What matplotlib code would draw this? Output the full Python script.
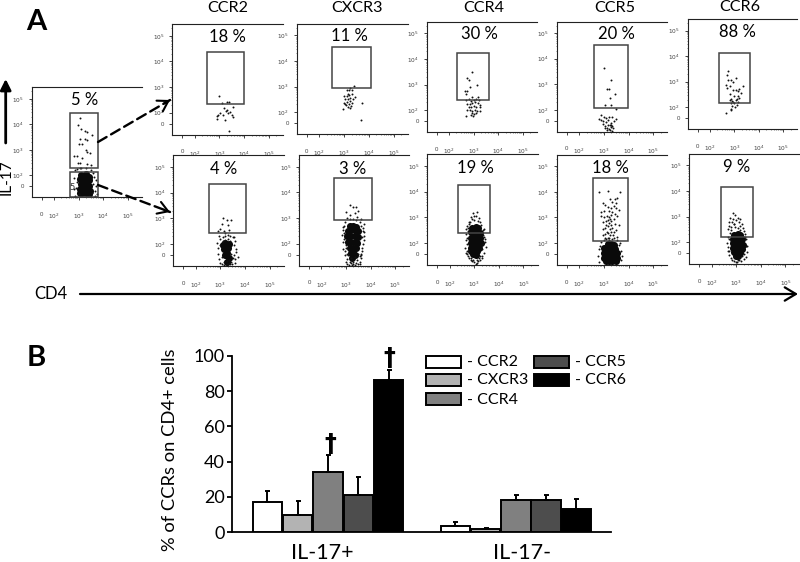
import matplotlib
matplotlib.use("Agg")
import matplotlib.pyplot as plt
from matplotlib.patches import Rectangle, FancyArrowPatch

plt.rcParams['font.family'] = ['Lato', 'DejaVu Sans']
W, H = 800, 562

# ---------- bar chart data ----------
receptors = ['CCR2', 'CXCR3', 'CCR4', 'CCR5', 'CCR6']
bar_colors = ['#ffffff', '#b3b3b3', '#808080', '#4d4d4d', '#000000']
il17_pos = [17, 10, 34, 21, 86]
il17_pos_err = [6.5, 8, 9.5, 10.5, 6]
il17_neg = [3.5, 2, 18.5, 18.5, 13]
il17_neg_err = [2.5, 0.7, 2.5, 2.5, 6]
group_labels = ['IL-17+', 'IL-17-']

# ---------- flow panels: percentages ----------
pct_main = '5 %'
pct_top = ['18 %', '11 %', '30 %', '20 %', '88 %']
pct_bot = ['4 %', '3 %', '19 %', '18 %', '9 %']

# ---------- flow panels: events (log10 display units) ----------
main_x = [3.07,2.99,3.11,3.25,3.34,3.52,3.05,3.25,3.34,3.02,3.15,3.34,3.45,3.28,2.80,2.91,3.05,3.34,3.48,3.15,2.98,
          2.85,2.95,3.05,3.6,3.7,3.65,2.8,3.72,3.55,2.88,3.62,2.84,3.68,3.5,3.1,3.3,2.92,3.2,3.42,2.82,3.74,3.6,3.0]
main_y = [4.26,3.97,3.80,3.75,3.71,3.58,3.41,3.41,3.39,3.22,3.22,2.93,2.89,3.0,2.77,2.77,2.47,2.43,2.41,2.67,2.47,
          2.2,2.25,2.3,2.1,1.8,1.4,1.9,1.6,1.3,1.5,1.95,1.2,1.2,2.2,2.28,2.3,1.75,1.17,1.18,1.45,1.25,1.65,1.25]
main_bx = [3.1,3.3,3.42,3.05,3.25,3.42,3.1,3.25,3.42,3.05,3.3,3.45,3.15,3.3,3.4,3.05,3.2,3.35,3.25]
main_by = [2.0,2.05,1.95,1.85,1.85,1.8,1.65,1.65,1.6,1.45,1.45,1.4,1.3,1.3,1.28,1.3,1.95,1.75,1.55]

c2t_x = [2.98,3.09,3.29,3.40,3.18,3.53,3.29,3.43,3.02,2.88,3.13,3.49,3.36,3.56,2.88,3.22,3.40,3.25,2.95]
c2t_y = [2.67,2.39,2.43,2.42,2.17,2.21,2.11,2.04,1.98,1.88,1.91,1.91,1.98,1.85,1.74,1.71,1.28,2.08,1.90]
c2b_x = [3.1,3.25,3.42,3.05,2.98,3.3,3.15,2.9,3.35,3.2,3.3,2.95,3.55,3.6,3.65,2.88,2.92,3.0,3.1,3.2,3.4,3.5,3.55,3.62,3.7,2.9,
         3.0,3.05,3.15,3.25,3.35,3.45,3.5,3.6,2.95,3.05,3.15,3.28,3.38,3.48,3.58,3.1,3.2,3.3,3.4,3.0,3.55,3.25,3.35,3.45]
c2b_y = [3.0,2.95,2.93,2.78,2.6,2.72,2.5,2.5,2.55,2.42,2.35,2.3,2.28,2.1,1.8,2.05,1.85,2.2,2.25,2.3,2.3,2.25,1.95,1.7,1.5,1.6,
         1.25,1.22,1.3,1.2,1.25,1.3,1.45,1.25,1.4,1.5,1.18,1.17,1.2,1.2,1.4,2.1,2.15,2.2,2.12,1.95,1.55,1.35,1.38,1.6]
c2b_bx = [3.2,3.35,3.15,3.32,3.1,3.28,3.18,3.35,3.25]
c2b_by = [2.05,2.0,1.8,1.85,1.95,1.65,1.55,1.45,1.3]

cx3t_x = [3.68,3.72,3.38,2.95,3.25,3.1,3.2,3.3,3.15,3.0,3.1,3.2,3.3,3.45,3.05,3.15,3.25,3.35,2.98,3.12,3.22,3.32,3.08,3.18,3.28,3.02,3.14,3.25]
cx3t_y = [1.70,2.35,3.03,2.12,2.95,2.85,2.85,2.85,2.72,2.62,2.62,2.65,2.7,2.6,2.5,2.52,2.55,2.5,2.35,2.4,2.42,2.35,2.28,2.3,2.25,2.3,2.18,2.15]
cx3b_x = [3.15,3.28,3.4,3.0,3.5,3.35,3.18,3.45,3.05,3.6,3.15,3.28,3.42,3.55,2.9,2.95,3.7,3.72,2.84,2.86,3.68,3.75,2.88,3.65,2.95,3.6,3.58,3.0,3.05,3.55,
          3.12,3.25,3.38,3.5,3.05,3.18,3.3,3.45,3.55,3.1,3.22,3.35,3.48,3.62,3.02,2.95,3.72,3.2,3.3,3.4,
          2.88,2.92,2.98,3.66,3.7,3.62,2.86,2.9,3.64,3.74,2.98,3.6]
cx3b_y = [3.5,3.42,3.45,3.25,3.27,3.2,3.1,3.05,3.0,2.96,2.95,2.98,2.92,2.85,2.7,2.85,2.6,2.3,2.35,2.05,2.0,2.45,1.8,1.7,1.55,1.45,1.3,1.3,1.2,1.22,
          1.18,1.17,1.18,1.2,1.4,1.28,1.3,1.35,1.5,1.55,1.45,1.48,1.6,1.6,1.6,1.7,2.75,1.24,1.22,1.25,
          2.55,2.2,1.95,2.25,2.5,2.7,2.65,2.42,1.85,2.15,1.85,1.55]
cx3b_bx = [3.15,3.3,3.42,3.08,3.22,3.4,3.5,3.05,3.18,3.35,3.48,3.08,3.2,3.38,3.46,3.15,3.28,3.4,3.2,3.3,3.35,3.25]
cx3b_by = [2.68,2.7,2.65,2.5,2.52,2.5,2.48,2.28,2.3,2.28,2.25,2.05,2.08,2.05,2.02,1.85,1.85,1.82,1.65,1.65,1.55,1.45]

c4t_x = [2.95,2.74,2.82,3.15,2.84,2.64,2.72,2.71,2.95,3.18,2.71,2.68,2.8,2.9,3.0,3.1,3.2,2.75,2.85,2.95,3.05,3.18,3.28,2.8,2.9,3.0,3.1,3.25,2.72,2.85,2.95,3.05,3.15,3.25,2.92,3.0,3.08,2.88,2.96]
c4t_y = [3.48,3.24,3.18,2.98,2.92,2.76,2.74,2.61,2.50,2.52,1.77,2.38,2.42,2.35,2.4,2.45,2.4,2.25,2.25,2.28,2.3,2.28,2.2,2.12,2.1,2.15,2.12,2.1,2.02,2.0,1.95,2.02,1.98,1.95,1.88,1.85,1.9,1.82,1.78]

c4b_x = [2.95,3.12,2.98,3.05,2.85,2.9,3.18,2.8,3.0,3.15,2.75,3.22,2.68,2.66,3.35,3.42,3.48,2.64,2.66,3.38,3.4,2.72,3.3,2.78,2.85,3.2,3.25,2.9,2.95,3.0,3.1,3.15,
         2.7,3.28,2.82,3.32,2.68,3.44,2.75,3.05,2.88,3.12,3.22,2.8,2.7,3.3,2.7,2.72,3.36,3.4,2.74,3.34]
c4b_y = [3.15,3.2,3.05,3.05,3.0,2.95,2.98,2.8,2.9,2.85,2.6,2.82,2.35,2.1,2.3,2.05,1.85,1.8,1.6,2.55,1.6,1.55,1.5,1.42,1.4,1.42,1.35,1.3,1.32,1.25,1.32,1.3,
         2.65,2.7,2.82,1.75,2.55,2.15,1.5,1.18,1.35,1.22,1.5,2.72,1.7,1.42,2.2,1.95,1.95,2.22,2.45,2.5]
c4b_bx = [2.92,3.05,3.16,2.85,2.98,3.12,3.22,2.85,2.95,3.1,3.22,2.85,2.95,3.08,3.2,3.26,2.85,2.95,3.08,3.2,2.88,3.0,3.12,2.95,3.05]
c4b_by = [2.6,2.62,2.58,2.42,2.42,2.45,2.4,2.2,2.22,2.22,2.2,2.0,2.02,2.0,2.02,2.0,1.82,1.82,1.8,1.82,1.68,1.65,1.68,1.55,1.52]

c5t_x = [3.02,3.30,3.11,3.22,3.25,3.44,3.03,3.30,3.48,2.82,2.9,3.0,3.1,3.2,3.35,3.5,2.88,2.98,3.08,3.18,3.28,3.4,2.95,3.05,3.15,3.25,3.35,3.05,3.12,3.2,3.28,3.38,3.12,3.25,3.35,3.3]
c5t_y = [3.62,3.16,2.82,2.82,2.48,2.61,2.20,2.17,2.04,1.62,1.78,1.72,1.68,1.7,1.72,1.65,1.6,1.55,1.52,1.58,1.5,1.55,1.45,1.38,1.4,1.42,1.35,1.28,1.3,1.25,1.32,1.28,1.2,1.22,1.18,1.42]

c5b_x = [2.82,3.16,3.65,3.55,3.45,3.35,3.5,3.25,3.4,2.95,3.05,3.15,3.3,3.5,3.6,2.9,3.0,3.2,3.35,3.45,3.55,2.88,3.02,3.12,3.22,3.3,3.4,2.95,3.1,3.2,3.28,3.45,3.6,2.95,3.05,3.15,3.25,3.35,3.5,3.12,3.3,3.05,3.18,3.25,3.38,2.95,3.2,3.42,3.55,3.08,3.22,3.32,3.15,3.25,3.3,3.4,3.0,3.1,
         2.78,2.8,3.7,3.68,2.82,3.72,3.62,2.85,2.9,3.65,3.55,3.05,3.15]
c5b_y = [4.0,4.02,4.0,3.75,3.72,3.6,3.55,3.7,3.45,3.55,3.5,3.42,3.38,3.35,3.3,3.2,3.25,3.25,3.2,3.15,3.05,3.05,3.0,3.05,3.0,3.08,2.95,2.82,2.85,2.8,2.85,2.75,2.7,2.55,2.6,2.65,2.55,2.6,2.5,2.42,2.42,2.35,2.38,2.3,2.3,2.3,2.2,2.2,2.25,2.15,2.12,2.15,2.9,2.95,2.72,2.42,2.1,2.72,
         1.5,1.25,1.7,1.35,1.75,1.5,1.92,1.9,2.02,2.0,2.1,2.18,2.18]
c5b_bx = [3.18,3.3,3.42,3.02,3.15,3.3,3.45,3.0,3.12,3.28,3.42,3.55,3.0,3.1,3.28,3.42,3.55,3.08,3.2,3.35,3.48,3.22]
c5b_by = [1.95,1.98,1.92,1.8,1.82,1.8,1.78,1.6,1.62,1.6,1.62,1.6,1.42,1.42,1.4,1.42,1.4,1.28,1.28,1.28,1.28,1.9]

c6t_x = [2.75,2.70,3.07,2.74,2.87,2.94,2.67,2.80,2.70,3.37,3.07,3.2,3.13,3.28,2.94,2.80,3.0,3.13,3.2,2.87,2.87,2.67,2.9,3.05,3.15,2.85,2.95,3.1,2.8,2.98,2.9,3.02,3.12,2.85]
c6t_y = [3.40,3.27,3.14,3.07,3.07,3.0,2.88,2.84,2.75,2.84,2.68,2.71,2.62,2.55,2.66,2.5,2.43,2.43,2.37,2.33,1.90,1.79,2.25,2.3,2.2,2.15,2.22,2.1,2.28,2.15,2.05,2.0,2.32,1.95]

c6b_x = [2.88,2.95,3.05,2.75,2.85,3.0,3.15,2.72,2.82,2.92,3.1,3.22,2.7,2.8,2.95,3.05,3.28,2.68,2.78,3.15,3.3,2.65,3.38,2.64,3.45,2.66,3.42,2.7,3.4,2.78,3.3,2.82,2.9,3.0,3.1,3.2,2.9,3.05,3.25,2.74,3.35,3.15,2.92,3.02,
         2.7,2.68,3.4,3.36,2.72,3.32]
c6b_y = [3.12,3.05,2.95,2.95,2.9,2.88,2.92,2.8,2.78,2.72,2.78,2.7,2.62,2.6,2.6,2.55,2.55,2.5,2.48,2.48,2.42,2.2,2.1,1.95,1.85,1.65,1.6,1.5,1.42,1.38,1.35,1.3,1.25,1.22,1.28,1.25,1.4,1.3,1.45,2.35,2.3,2.62,2.7,1.2,
         2.1,1.8,1.85,2.2,1.65,1.55]
c6b_bx = [2.92,3.05,3.16,2.85,2.95,3.1,3.22,2.85,2.95,3.08,3.2,3.28,2.85,2.95,3.1,3.22,2.92,3.02,3.15,2.98,3.08]
c6b_by = [2.28,2.32,2.26,2.12,2.15,2.12,2.12,1.95,1.95,1.95,1.95,1.9,1.75,1.75,1.75,1.72,1.6,1.6,1.58,1.45,1.45]

fig = plt.figure(figsize=(W / 100, H / 100), dpi=100)

def place(l, t, r, b):
    return fig.add_axes([l / W, 1 - b / H, (r - l) / W, (b - t) / H])

XT = [1.5, 2, 3, 4, 5]
YT = [1.57, 2, 3, 4, 5]
TL = ['0', r'$10^{2}$', r'$10^{3}$', r'$10^{4}$', r'$10^{5}$']
minor = [2.3, 2.48, 2.6, 2.7, 2.78, 2.85, 2.9, 2.95, 3.3, 3.48, 3.6, 3.7, 3.78, 3.85, 3.9, 3.95,
         4.3, 4.48, 4.6, 4.7, 4.78, 4.85, 4.9, 4.95, 5.3]

def flow(box, gates, x, y, bx=None, by=None, size=2.0):
    ax = place(*box)
    ax.set_xlim(1.09, 5.57)
    ax.set_ylim(1.14, 5.45)
    ax.patch.set_alpha(0)
    ax.spines['right'].set_visible(False)
    for s in ['left', 'bottom', 'top']:
        ax.spines[s].set_linewidth(0.8)
        ax.spines[s].set_color('#222222')
    ax.set_xticks(XT, TL)
    ax.set_yticks(YT, TL)
    ax.set_xticks(minor, minor=True)
    ax.set_yticks(minor, minor=True)
    ax.tick_params(which='major', length=2, width=0.6, labelsize=4.2, labelcolor='#444444', color='#222222')
    ax.tick_params(which='minor', length=1, width=0.4, color='#222222')
    ax.tick_params(axis='x', which='major', pad=8.5)
    ax.tick_params(axis='y', which='major', pad=3.5)
    if bx:
        ax.scatter(bx, by, s=26, c='#0a0a0a', linewidths=0, zorder=2)
    ax.scatter(x, y, s=size, c='#111111', linewidths=0, zorder=3)
    for g in gates:
        ax.add_patch(Rectangle((g[0], g[2]), g[1] - g[0], g[3] - g[2], fill=False,
                               ec='#444444', lw=1.1, zorder=4, clip_on=False))
    return ax

flow((31.7, 87.3, 142, 197.3), [(2.655, 3.79, 2.28, 4.43), (2.655, 3.79, 1.14, 2.13)], main_x, main_y, main_bx, main_by)
flow((172.3, 24.3, 283, 134.7), [(2.51, 3.98, 2.34, 4.35)], c2t_x, c2t_y)
flow((173, 155.3, 284, 266), [(2.55, 4.02, 2.42, 4.34)], c2b_x, c2b_y, c2b_bx, c2b_by)
flow((296.7, 24, 408, 134), [(2.53, 4.07, 2.93, 4.56)], cx3t_x, cx3t_y)
flow((299, 155.3, 409.3, 265.7), [(2.53, 4.07, 2.92, 4.55)], cx3b_x, cx3b_y, cx3b_bx, cx3b_by)
flow((426.7, 22, 536.7, 132), [(2.33, 3.63, 2.38, 4.25)], c4t_x, c4t_y)
flow((427.3, 154.3, 537.5, 265), [(2.33, 3.64, 2.37, 4.25)], c4b_x, c4b_y, c4b_bx, c4b_by)
flow((556.7, 21.7, 667.3, 131.7), [(2.59, 3.99, 2.07, 4.53)], c5t_x, c5t_y)
flow((556.7, 154.7, 667.3, 265), [(2.57, 3.99, 2.07, 4.53)], c5b_x, c5b_y, c5b_bx, c5b_by)
flow((687.7, 19, 797.3, 129.3), [(2.37, 3.63, 2.18, 4.14)], c6t_x, c6t_y)
flow((689.3, 154, 799.5, 264), [(2.39, 3.66, 2.20, 4.16)], c6b_x, c6b_y, c6b_bx, c6b_by)

# ---------- bar chart ----------
bax = place(232, 355.7, 611, 532.3)
bax.set_xlim(-1.17, 11.34)
bax.set_ylim(0, 100)
bax.patch.set_alpha(0)
for s in ['top', 'right']:
    bax.spines[s].set_visible(False)
for s in ['left', 'bottom']:
    bax.spines[s].set_linewidth(1.3)
for i, c in enumerate(bar_colors):
    bax.bar(i, il17_pos[i], width=0.97, color=c, edgecolor='black', linewidth=1.4,
            yerr=[[0], [il17_pos_err[i]]], error_kw=dict(ecolor='black', elinewidth=1.4, capsize=1.8, capthick=1.4), zorder=3)
    bax.bar(i + 6.2, il17_neg[i], width=0.97, color=c, edgecolor='black', linewidth=1.4,
            yerr=[[0], [il17_neg_err[i]]], error_kw=dict(ecolor='black', elinewidth=1.4, capsize=1.8, capthick=1.4), zorder=3)
bax.set_yticks([0, 20, 40, 60, 80, 100])
bax.set_xticks([1.8, 8.4], group_labels)
bax.tick_params(axis='y', length=3.6, width=1.3, labelsize=13, pad=1.5)
bax.tick_params(axis='x', length=0, labelsize=15.5, pad=8)
bax.set_ylabel('% of CCRs on CD4+ cells', fontsize=13.2, labelpad=2)
bax.yaxis.set_label_coords(-0.142, 0.47)

# ---------- overlay in pixel coordinates ----------
ov = fig.add_axes([0, 0, 1, 1])
ov.set_xlim(0, W)
ov.set_ylim(H, 0)
ov.axis('off')
ov.patch.set_alpha(0)

ov.text(36, 22, 'A', fontsize=21, fontweight='bold', ha='center', va='center')
ov.text(36, 358, 'B', fontsize=21, fontweight='bold', ha='center', va='center')
ov.text(7, 177, 'IL-17', fontsize=11, rotation=90, ha='center', va='center')
ov.text(51, 294, 'CD4', fontsize=12, ha='center', va='center')
ov.text(85, 100, pct_main, fontsize=12, ha='center', va='center')
ov.text(72, 188, '5', fontsize=6.5, color='#333333', ha='center', va='center')

title_x = [228, 357, 484, 615, 740]
title_y = [8.5, 8.5, 8.5, 8.5, 7]
for n, tx, ty in zip(receptors, title_x, title_y):
    ov.text(tx, ty, n, fontsize=11.6, ha='center', va='center')
for p, tx, ty in zip(pct_top, [227, 349, 479, 616, 737], [37, 36, 34, 34, 32]):
    ov.text(tx, ty, p, fontsize=12, ha='center', va='center')
for p, tx, ty in zip(pct_bot, [224, 353, 475, 610, 737], [169, 169, 168, 168, 167]):
    ov.text(tx, ty, p, fontsize=12, ha='center', va='center')

ov.add_patch(FancyArrowPatch((5.7, 143), (5.7, 79), arrowstyle='-|>,head_length=3.2,head_width=1.6',
                             mutation_scale=2, lw=2, color='black', shrinkA=0, shrinkB=0))
ov.add_patch(FancyArrowPatch((80, 294), (798, 294), arrowstyle='->,head_length=5,head_width=3',
                             mutation_scale=1.6, lw=1.6, color='black', shrinkA=0, shrinkB=0))
for a, b in [((98, 142), (170, 100)), ((98, 185), (170, 212))]:
    ov.add_patch(FancyArrowPatch(a, b, arrowstyle='-', lw=1.7, ls=(0, (4.2, 2.2)), color='black', shrinkA=0, shrinkB=0))
    ov.add_patch(FancyArrowPatch((b[0] - (b[0] - a[0]) * 0.08, b[1] - (b[1] - a[1]) * 0.08), b,
                                 arrowstyle='->,head_length=4.5,head_width=2.8', mutation_scale=1.6, lw=1.5,
                                 color='black', shrinkA=0, shrinkB=0))

# daggers
for dx, dy in [(330, 444), (389, 358)]:
    ov.text(dx, dy, '\u2020', fontsize=17, fontweight='bold', family='DejaVu Sans', ha='center', va='center')

# legend
leg = [(426, 355.5, 0), (426, 374, 1), (426, 393, 2), (534, 355.5, 3), (534, 374, 4)]
for (lx, ly, i) in leg:
    ov.add_patch(Rectangle((lx, ly), 35, 12, fc=bar_colors[i], ec='black', lw=1.4))
    ov.text(lx + 41, ly + 6.5, '- ' + receptors[i], fontsize=11.5, ha='left', va='center')

fig.savefig('out.png', dpi=100)
